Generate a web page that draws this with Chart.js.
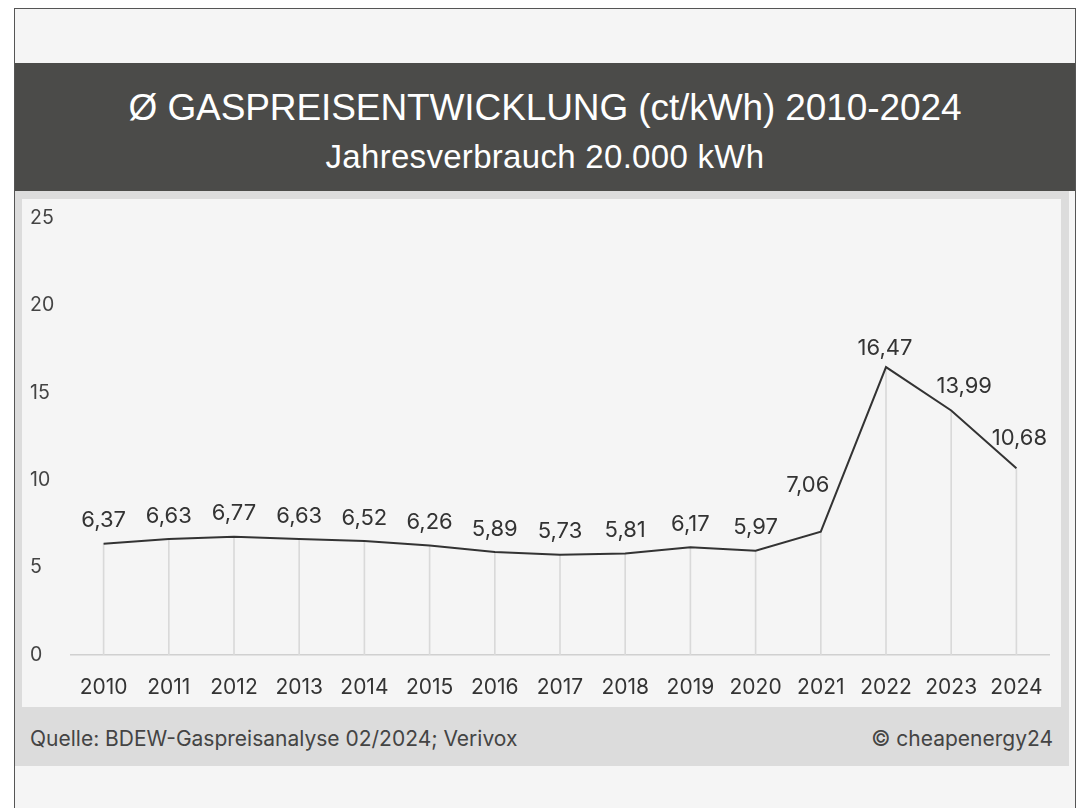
<!DOCTYPE html>
<html>
<head>
<meta charset="utf-8">
<script src="https://cdn.jsdelivr.net/npm/chart.js@4.4.1/dist/chart.umd.min.js"></script>
<style>
    html, body { margin: 0; padding: 0; background: #ffffff; }
    body { width: 1090px; height: 808px; position: relative; overflow: hidden; font-family: Inter, "Liberation Sans", sans-serif; }
    #frame { position: absolute; left: 14px; top: 8px; width: 1060px; height: 820px; border: 1.5px solid #555; background: #f5f5f5; }
    #header { position: absolute; left: 0; top: 54px; width: 1060px; height: 128px; background: #4b4b49; color: #fff; text-align: center; font-family: "Liberation Sans", Arial, sans-serif; }
    #header .t1 { position: absolute; left: 0; right: 0; top: 24px; font-size: 37px; letter-spacing: -0.1px; }
    #header .t2 { position: absolute; left: 0; right: 0; top: 75px; font-size: 33px; letter-spacing: 0.3px; }
    #band { position: absolute; left: 0; top: 182px; width: 1054px; height: 575px; background: #dcdcdc; }
    #panel { position: absolute; left: 7px; top: 8px; width: 1039px; height: 508px; background: #f5f5f5; }
    #footer { position: absolute; left: 0; top: 516px; width: 1054px; height: 59px; color: #444; font-size: 21px; }
    #footer .src { position: absolute; left: 15px; top: 19px; }
    #footer .copy { position: absolute; right: 16px; top: 19px; }
</style>
</head>
<body>
<div id="frame">
    <div id="header">
        <div class="t1">Ø GASPREISENTWICKLUNG (ct/kWh) 2010-2024</div>
        <div class="t2">Jahresverbrauch 20.000 kWh</div>
    </div>
    <div id="band">
        <div id="panel"><canvas id="chart" width="1039" height="508"></canvas></div>
        <div id="footer">
            <div class="src">Quelle: BDEW-Gaspreisanalyse 02/2024; Verivox</div>
            <div class="copy">© cheapenergy24</div>
        </div>
    </div>
</div>
<script>
// --- data ---
const years = ["2010", "2011", "2012", "2013", "2014", "2015", "2016", "2017", "2018", "2019", "2020", "2021", "2022", "2023", "2024"];
const prices = [6.37, 6.63, 6.77, 6.63, 6.52, 6.26, 5.89, 5.73, 5.81, 6.17, 5.97, 7.06, 16.47, 13.99, 10.68];
const yTicks = [0, 5, 10, 15, 20, 25];

// label nudges (x, y) for the points where the label sits beside the line
const labelShift = { 11: [-13, -46], 12: [-1, -19], 13: [13, -24], 14: [3, -30] };

const fmt = v => v.toFixed(2).replace(".", ",");

// draws the value labels above the line
const valueLabels = {
    id: "valueLabels",
    afterDatasetsDraw(chart) {
        const ctx = chart.ctx;
        const meta = chart.getDatasetMeta(1);
        ctx.save();
        ctx.font = "22px Inter";
        ctx.fillStyle = "#333";
        ctx.textAlign = "center";
        ctx.textBaseline = "middle";
        meta.data.forEach((pt, i) => {
            const s = labelShift[i] || [0, -23];
            ctx.fillText(fmt(prices[i]), pt.x + s[0], pt.y + s[1]);
        });
        ctx.restore();
    }
};

new Chart(document.getElementById("chart"), {
    type: "bar",
    data: {
        labels: years,
        datasets: [
            {
                // thin drop lines from the baseline to each point
                type: "bar",
                data: prices,
                backgroundColor: "#d9d9d9",
                barThickness: 1,
                order: 2
            },
            {
                type: "line",
                data: prices,
                borderColor: "#333",
                borderWidth: 2,
                pointRadius: 0,
                tension: 0,
                order: 1
            }
        ]
    },
    options: {
        responsive: false,
        animation: false,
        layout: { padding: { top: 19, right: 12, left: 8, bottom: 0 } },
        plugins: {
            legend: { display: false },
            tooltip: { enabled: false }
        },
        scales: {
            x: {
                grid: { display: false },
                border: { display: true, color: "#d0d0d0", width: 1.5 },
                ticks: { color: "#333", font: { family: "Inter", size: 21 }, padding: 12, maxRotation: 0, autoSkip: false },
                afterFit: s => { s.height = 52; }
            },
            y: {
                min: 0,
                max: 25,
                afterBuildTicks: s => { s.ticks = yTicks.map(v => ({ value: v })); },
                grid: { display: false },
                border: { display: false },
                ticks: { color: "#444", font: { family: "Inter", size: 19.5 }, crossAlign: "far", padding: 0 },
                afterFit: s => { s.width = 41; }
            }
        }
    },
    plugins: [valueLabels]
});
</script>
</body>
</html>
